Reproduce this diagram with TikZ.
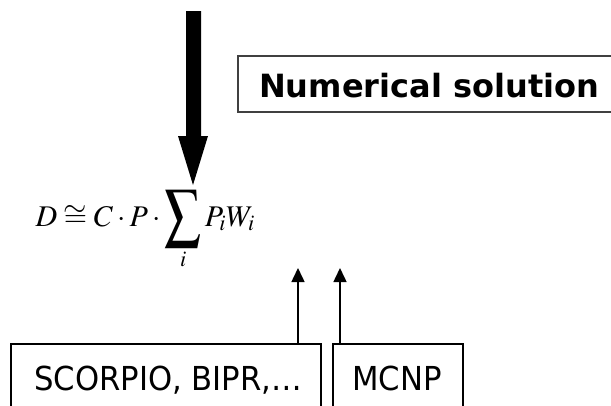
\documentclass[tikz,border=0pt]{standalone}
\usepackage{graphicx}
\usepackage{mathptmx}
\usepackage[no-math]{fontspec}
\setsansfont{DejaVu Sans}
\usetikzlibrary{arrows.meta}
\newcommand\bigsumop{\mathop{\vcenter{\hbox{\scalebox{1.2}[1.55]{$\displaystyle\sum$}}}}\limits}
\tikzset{
  px/.style={x=1pt,y=-1pt},
  boxline/.style={line width=2.5pt},
  toolfont/.style={font=\sffamily\fontsize{33}{38}\selectfont,xscale=0.93},
  upar/.style={line width=1.5pt,-{Triangle[width=13pt,length=14pt]}},
  solbox/.style={draw=black!75,line width=2pt},
}
\begin{document}
\begin{tikzpicture}[px]
\useasboundingbox (0,0) rectangle (611,405);
\clip (0,0) rectangle (611,405);
% big arrow
\fill[black] (186,11) -- (201,11) -- (201,136) -- (208,136) -- (193,185) -- (178,136) -- (186,136) -- cycle;
% numerical solution
\draw[solbox] (620,56) -- (238,56) -- (238,112) -- (620,112);
\node[anchor=base west,inner sep=0pt,font=\sffamily\bfseries\fontsize{32}{36}\selectfont] (sol) at (259,97) {Numerical solution};
% equation
\node[anchor=base east,inner sep=0pt,font=\fontsize{30}{34}\selectfont] (eq) at (255,226) {$\displaystyle D\cong C\cdot P\cdot\bigsumop_i P_iW_i$};
% bottom boxes
\draw[boxline] (11,420) -- (11,344) -- (321,344) -- (321,420);
\draw[boxline] (333,420) -- (333,344) -- (463,344) -- (463,420);
\node[toolfont,anchor=base west,inner sep=0pt] (sc) at (34,390) {SCORPIO, BIPR,\dots};
\node[toolfont,anchor=base,inner sep=0pt] (mc) at (397,390) {MCNP};
\coordinate (a1s) at (298,344);
\coordinate (a1e) at (298,268);
\coordinate (a2s) at (340,344);
\coordinate (a2e) at (340,268);
\draw[upar] (a1s) -- (a1e);
\draw[upar] (a2s) -- (a2e);
\end{tikzpicture}
\end{document}
